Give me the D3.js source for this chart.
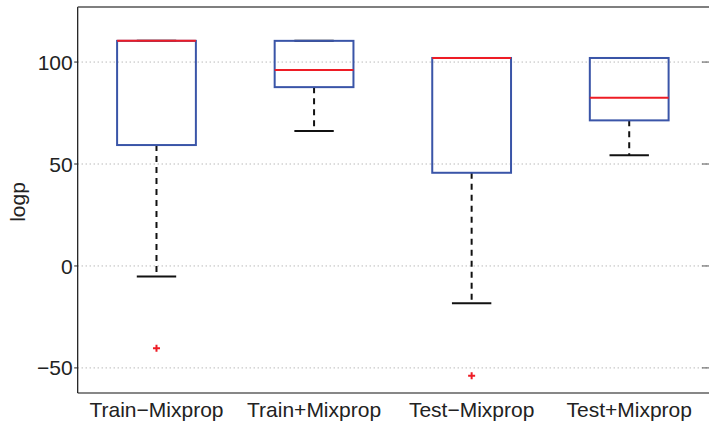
<!DOCTYPE html>
<html><head><meta charset="utf-8">
<script src="https://cdn.jsdelivr.net/npm/d3@7"></script>
<style>body{margin:0;background:#fff}svg{display:block;font-family:"Liberation Sans",Arial,sans-serif}</style>
</head><body>
<svg id="chart" width="709" height="422"></svg>
<script>
const categories = ["Train\u2212Mixprop","Train+Mixprop","Test\u2212Mixprop","Test+Mixprop"];
const upperWhisker = [110.4, 110.4, 102, 102];
const q3 = [110.4, 110.4, 102, 102];
const median = [110.4, 96.1, 102, 82.5];
const q1 = [59.3, 87.7, 45.7, 71.4];
const lowerWhisker = [-5.2, 66.2, -18.3, 54.3];
const outliers = [[-40.3], [], [-53.9], []];
const yTicks = [-50, 0, 50, 100];
const yLabel = "logp";

(function(){
const svg = d3.select("#chart");
const mLeft = 77.7, mRight = 708, mTop = 7, mBottom = 393;
const x = d3.scaleLinear().domain([0.5, 4.5]).range([mLeft, mRight]);
const y = d3.scaleLinear().domain([-62.3, 127]).range([mBottom, mTop]);
const blue = "#3a55a8", red = "#ee1c25";
const fs = 21;

svg.append("g").selectAll("line").data(yTicks).join("line")
  .attr("x1", mLeft).attr("x2", mRight)
  .attr("y1", d => y(d)).attr("y2", d => y(d))
  .attr("stroke", "#9a9a9a").attr("stroke-width", 1).attr("stroke-dasharray", "1,3");

const data = categories.map((c, i) => ({i: i + 1, c, uw: upperWhisker[i], q3: q3[i], med: median[i], q1: q1[i], lw: lowerWhisker[i], out: outliers[i]}));
const bw = x(1.25) - x(1);
const cw = x(1.125) - x(1);

const g = svg.append("g");
data.forEach(d => {
  const cx = x(d.i);
  if (d.uw > d.q3) g.append("line").attr("x1", cx).attr("x2", cx).attr("y1", y(d.q3)).attr("y2", y(d.uw))
    .attr("stroke", "#111").attr("stroke-width", 2).attr("stroke-dasharray", "6,5");
  g.append("line").attr("x1", cx).attr("x2", cx).attr("y1", y(d.q1)).attr("y2", y(d.lw))
    .attr("stroke", "#111").attr("stroke-width", 2).attr("stroke-dasharray", "6,5");
  g.append("line").attr("x1", cx - cw).attr("x2", cx + cw).attr("y1", y(d.lw)).attr("y2", y(d.lw))
    .attr("stroke", "#111").attr("stroke-width", 2);
  g.append("line").attr("x1", cx - cw).attr("x2", cx + cw).attr("y1", y(d.uw)).attr("y2", y(d.uw))
    .attr("stroke", "#111").attr("stroke-width", 2);
  g.append("rect").attr("x", cx - bw).attr("width", 2 * bw)
    .attr("y", y(d.q3)).attr("height", y(d.q1) - y(d.q3))
    .attr("fill", "none").attr("stroke", blue).attr("stroke-width", 2);
  g.append("line").attr("x1", cx - bw).attr("x2", cx + bw).attr("y1", y(d.med)).attr("y2", y(d.med))
    .attr("stroke", red).attr("stroke-width", 2);
  d.out.forEach(o => {
    g.append("path").attr("d", `M${cx-3.5},${y(o)}H${cx+3.5}M${cx},${y(o)-3.5}V${y(o)+3.5}`)
      .attr("stroke", red).attr("stroke-width", 2);
  });
});

svg.append("line").attr("x1", mLeft).attr("x2", mLeft).attr("y1", mTop).attr("y2", mBottom).attr("stroke", "#111").attr("stroke-width", 1.2);
svg.append("line").attr("x1", mLeft).attr("x2", mRight + 1).attr("y1", mBottom).attr("y2", mBottom).attr("stroke", "#111").attr("stroke-width", 1.2);
svg.append("line").attr("x1", mLeft).attr("x2", mRight + 1).attr("y1", mTop).attr("y2", mTop).attr("stroke", "#555").attr("stroke-width", 1.4);

const yt = svg.append("g");
yTicks.forEach(t => {
  yt.append("line").attr("x1", mLeft - 3.5).attr("x2", mLeft).attr("y1", y(t)).attr("y2", y(t)).attr("stroke", "#222");
  yt.append("line").attr("x1", mRight - 6).attr("x2", mRight + 1).attr("y1", y(t)).attr("y2", y(t)).attr("stroke", "#555");
  yt.append("text").attr("x", mLeft - 5).attr("y", y(t)).attr("dy", "0.36em").attr("text-anchor", "end")
    .attr("font-size", fs).attr("fill", "#222").text(t < 0 ? "\u2212" + Math.abs(t) : t);
});

svg.append("g").selectAll("text").data(data).join("text")
  .attr("x", d => x(d.i)).attr("y", 417).attr("text-anchor", "middle")
  .attr("font-size", fs).attr("fill", "#222").text(d => d.c);

svg.append("text").attr("transform", `translate(25,${(mTop + mBottom) / 2 + 2}) rotate(-90)`)
  .attr("text-anchor", "middle").attr("font-size", fs).attr("fill", "#222").text(yLabel);
})();
</script>
</body></html>
